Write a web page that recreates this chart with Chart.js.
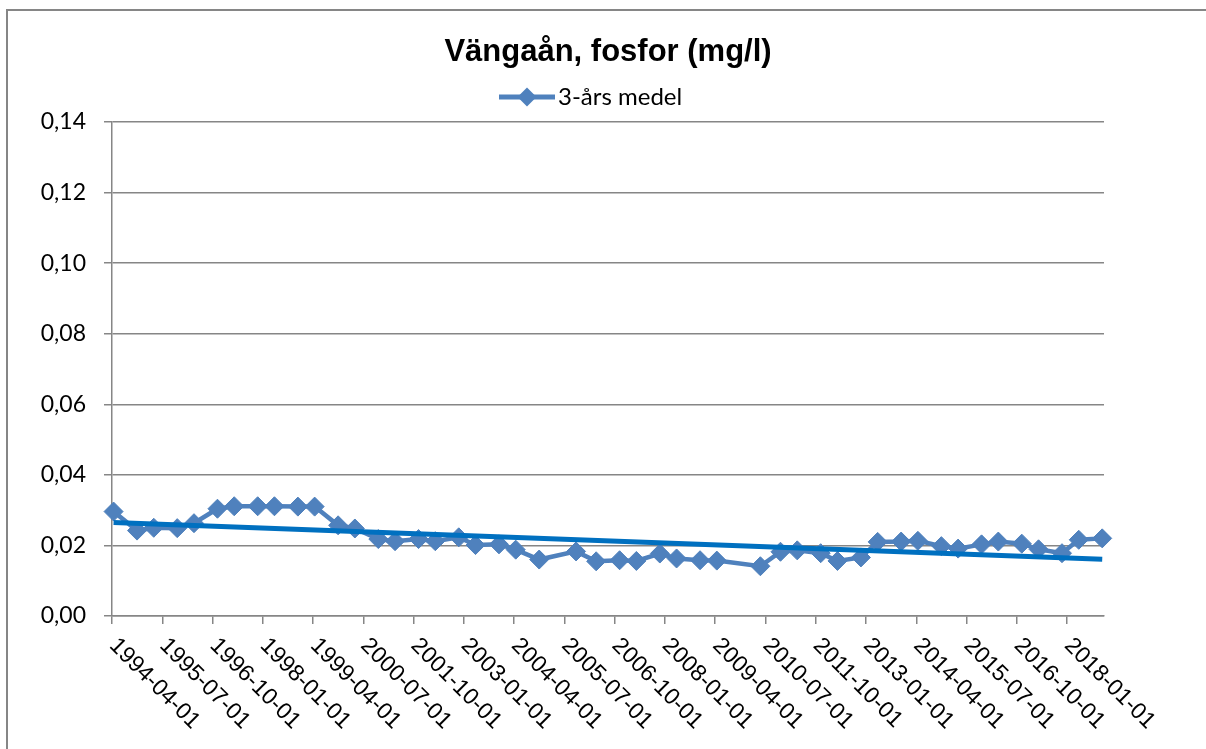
<!DOCTYPE html>
<html>
<head>
<meta charset="utf-8">
<script src="https://cdn.jsdelivr.net/npm/chart.js@4.4.1/dist/chart.umd.min.js"></script>
<style>
  html, body { margin: 0; padding: 0; background: #ffffff; }
  #wrap { width: 1206px; height: 749px; position: relative; }
</style>
</head>
<body>
<div id="wrap"><canvas id="c" width="1206" height="749"></canvas></div>
<script>
// ---- data ----
const chartTitle = 'Vängaån, fosfor (mg/l)';
const seriesName = '3-års medel';
const dates = [
  '1994-04-15','1994-11-15','1995-04-15','1995-11-15','1996-04-15','1996-11-15',
  '1997-04-15','1997-11-15','1998-04-15','1998-11-15','1999-04-15','1999-11-15',
  '2000-04-15','2000-11-15','2001-04-15','2001-11-15','2002-04-15','2002-11-15',
  '2003-04-15','2003-11-15','2004-04-15','2004-11-15','2005-10-15','2006-04-15',
  '2006-11-15','2007-04-15','2007-11-15','2008-04-15','2008-11-15','2009-04-15',
  '2010-05-15','2010-11-15','2011-04-15','2011-11-15','2012-04-15','2012-11-15',
  '2013-04-15','2013-11-15','2014-04-15','2014-11-15','2015-04-15','2015-11-15',
  '2016-04-15','2016-11-15','2017-04-15','2017-11-15','2018-04-15','2018-11-15'
];
const values = [
  0.0296, 0.0242, 0.0250, 0.0249, 0.0263, 0.0304, 0.0311, 0.0311, 0.0311, 0.0310,
  0.0310, 0.0257, 0.0248, 0.0218, 0.0212, 0.0218, 0.0212, 0.0223, 0.0201, 0.0203,
  0.0188, 0.0160, 0.0183, 0.0155, 0.0158, 0.0156, 0.0177, 0.0163, 0.0158, 0.0157,
  0.0141, 0.0182, 0.0186, 0.0178, 0.0156, 0.0166, 0.0210, 0.0211, 0.0213, 0.0198,
  0.0191, 0.0203, 0.0211, 0.0205, 0.0189, 0.0178, 0.0216, 0.0220
];
const trendDates = ['1994-04-15', '2018-11-15'];
const trendValues = [0.0265, 0.0161];
const xTickLabels = [
  '1994-04-01','1995-07-01','1996-10-01','1998-01-01','1999-04-01','2000-07-01',
  '2001-10-01','2003-01-01','2004-04-01','2005-07-01','2006-10-01','2008-01-01',
  '2009-04-01','2010-07-01','2011-10-01','2013-01-01','2014-04-01','2015-07-01',
  '2016-10-01','2018-01-01'
];
const xAxisStart = '1994-04-01';
const xAxisEnd = '2018-12-01';
const yMin = 0, yMax = 0.14, yStep = 0.02;

// month index since axis start
function monthIndex(s) {
  const [y, m, d] = s.split('-').map(Number);
  const [y0, m0] = xAxisStart.split('-').map(Number);
  return (y - y0) * 12 + (m - m0) + (d - 1) / 30;
}
function monthLabel(v) {
  const [y0, m0] = xAxisStart.split('-').map(Number);
  const t = Math.round(v) + (m0 - 1);
  const y = y0 + Math.floor(t / 12);
  const m = (t % 12) + 1;
  return y + '-' + String(m).padStart(2, '0') + '-01';
}

const SERIES_COLOR = '#4F81BD';
const TREND_COLOR = '#0070C0';
const AXIS_COLOR = '#868686';

const bgBorder = {
  id: 'bgBorder',
  beforeDraw(chart) {
    const ctx = chart.ctx;
    ctx.save();
    ctx.fillStyle = '#ffffff';
    ctx.fillRect(0, 0, chart.width, chart.height);
    ctx.strokeStyle = AXIS_COLOR;
    ctx.lineWidth = 2;
    ctx.strokeRect(7, 10, chart.width + 20, chart.height + 20);
    ctx.restore();
  }
};

const rotatedXLabels = {
  id: 'rotatedXLabels',
  afterDraw(chart) {
    const sx = chart.scales.x;
    const ctx = chart.ctx;
    ctx.save();
    ctx.font = '23px "Liberation Sans", Arial, sans-serif';
    ctx.fillStyle = '#000000';
    ctx.textAlign = 'left';
    ctx.textBaseline = 'top';
    sx.ticks.forEach(t => {
      const px = sx.getPixelForValue(t.value);
      ctx.save();
      ctx.translate(px + 9, sx.top + 18);
      ctx.rotate(Math.PI / 4);
      ctx.fillText(monthLabel(t.value), 0, 0);
      ctx.restore();
    });
    ctx.restore();
  }
};

const customLegend = {
  id: 'customLegend',
  afterDraw(chart) {
    const ctx = chart.ctx;
    const x0 = 499, x1 = 555, y = 97;
    ctx.save();
    ctx.strokeStyle = SERIES_COLOR;
    ctx.lineWidth = 5;
    ctx.beginPath();
    ctx.moveTo(x0, y);
    ctx.lineTo(x1, y);
    ctx.stroke();
    const cx = (x0 + x1) / 2, r = 9.5;
    ctx.fillStyle = SERIES_COLOR;
    ctx.beginPath();
    ctx.moveTo(cx - r, y);
    ctx.lineTo(cx, y - r);
    ctx.lineTo(cx + r, y);
    ctx.lineTo(cx, y + r);
    ctx.closePath();
    ctx.fill();
    ctx.font = '24px Lato, "Open Sans", sans-serif';
    ctx.fillStyle = '#000000';
    ctx.textAlign = 'left';
    ctx.textBaseline = 'middle';
    ctx.fillText(seriesName, 558, y);
    ctx.restore();
  }
};

new Chart(document.getElementById('c'), {
  type: 'line',
  data: {
    datasets: [
      {
        label: 'Linjär trend',
        data: trendDates.map((d, i) => ({ x: monthIndex(d), y: trendValues[i] })),
        borderColor: TREND_COLOR,
        borderWidth: 5,
        pointRadius: 0,
        fill: false,
        order: 0,
        clip: false
      },
      {
        label: seriesName,
        data: dates.map((d, i) => ({ x: monthIndex(d), y: values[i] })),
        borderColor: SERIES_COLOR,
        backgroundColor: SERIES_COLOR,
        borderWidth: 4.5,
        pointStyle: 'rectRot',
        pointRadius: 9.5,
        pointBorderWidth: 1,
        pointBackgroundColor: SERIES_COLOR,
        pointBorderColor: SERIES_COLOR,
        tension: 0,
        fill: false,
        order: 1,
        clip: false
      }
    ]
  },
  options: {
    responsive: false,
    animation: false,
    devicePixelRatio: 1,
    layout: { padding: { left: 0, right: 102, top: 0, bottom: 0 } },
    plugins: {
      legend: { display: false },
      tooltip: { enabled: false },
      title: {
        display: true,
        text: chartTitle,
        fullSize: false,
        color: '#000000',
        font: { family: '"Liberation Sans", Arial, sans-serif', size: 31, weight: 'bold', lineHeight: 1.2 },
        padding: { top: 34, bottom: 50.8 }
      }
    },
    scales: {
      x: {
        type: 'linear',
        min: monthIndex(xAxisStart),
        max: monthIndex(xAxisEnd),
        afterBuildTicks(scale) {
          scale.ticks = xTickLabels.map(l => ({ value: monthIndex(l) }));
        },
        afterFit(scale) { scale.height = 133; },
        ticks: { display: false },
        grid: { drawOnChartArea: false, drawTicks: true, tickLength: 8, color: AXIS_COLOR, lineWidth: 1.5 },
        border: { display: true, color: AXIS_COLOR, width: 1.5 }
      },
      y: {
        type: 'linear',
        min: yMin,
        max: yMax,
        afterFit(scale) { scale.width = 112; },
        ticks: {
          stepSize: yStep,
          padding: 18,
          color: '#000000',
          font: { family: 'Lato, "Open Sans", sans-serif', size: 23 },
          callback: v => Number(v).toFixed(2).replace('.', ',')
        },
        grid: { drawTicks: true, tickLength: 8, color: AXIS_COLOR, lineWidth: 1.5 },
        border: { display: true, color: AXIS_COLOR, width: 1.5 }
      }
    }
  },
  plugins: [bgBorder, rotatedXLabels, customLegend]
});
</script>
</body>
</html>
